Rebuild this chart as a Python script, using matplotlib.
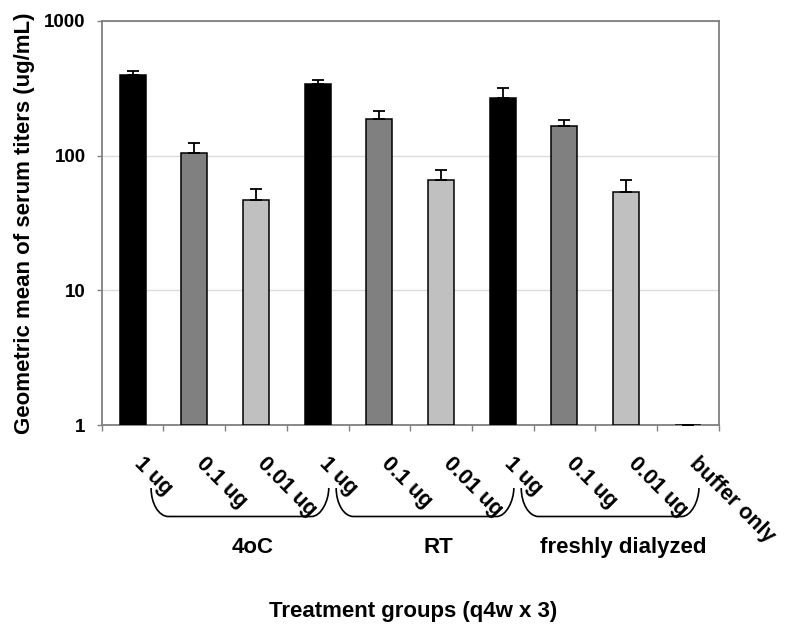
#!/usr/bin/env python3
"""
Serum titer bar chart (log scale) for the storage/dose treatment groups.
"""

import numpy as np
import matplotlib
matplotlib.use('Agg')
import matplotlib.pyplot as plt
from matplotlib.path import Path
from matplotlib.patches import PathPatch
from matplotlib.ticker import NullLocator
import matplotlib.transforms as mtransforms


# Bar labels, one per treatment group
dose_labels = ['1 ug', '0.1 ug', '0.01 ug',
               '1 ug', '0.1 ug', '0.01 ug',
               '1 ug', '0.1 ug', '0.01 ug',
               'buffer only']

# Geometric mean titers (ug/mL) and upper error
titers = [397, 104, 46.8, 340, 187, 66.2, 268, 166, 53.3, 1.0]
titer_err = [30, 21, 9.7, 24, 27, 12.4, 51, 18, 12.6, 0]

# Fill colour for each dose level
dose_colors = ['#000000', '#808080', '#c0c0c0',
               '#000000', '#808080', '#c0c0c0',
               '#000000', '#808080', '#c0c0c0',
               '#808080']

# Storage conditions: (name, first bar index, last bar index)
groups = [('4oC', 0, 2), ('RT', 3, 5), ('freshly dialyzed', 6, 8)]

y_ticks = [1, 10, 100, 1000]


def draw_bracket(ax, x0, x1, y_top, y_bot, rx):
    """Rounded bracket under a group of bars (x in data, y in axes units)."""
    k = 0.5523
    ry = y_top - y_bot
    verts = [
        (x0, y_top),
        (x0, y_top - k * ry), (x0 + rx - k * rx, y_bot), (x0 + rx, y_bot),
        (x1 - rx, y_bot),
        (x1 - rx + k * rx, y_bot), (x1, y_bot + k * ry), (x1, y_top),
    ]
    codes = [Path.MOVETO,
             Path.CURVE4, Path.CURVE4, Path.CURVE4,
             Path.LINETO,
             Path.CURVE4, Path.CURVE4, Path.CURVE4]
    trans = mtransforms.blended_transform_factory(ax.transData, ax.transAxes)
    patch = PathPatch(Path(verts, codes), facecolor='none', edgecolor='black',
                      lw=1.2, transform=trans, clip_on=False)
    ax.add_patch(patch)


def main():
    plt.rcParams['font.family'] = ['Liberation Sans', 'DejaVu Sans']
    plt.rcParams['font.weight'] = 'bold'

    fig = plt.figure(figsize=(7.85, 6.26), dpi=100)
    ax = fig.add_axes([0.1296, 0.3206, 0.7859, 0.6463])

    x = np.arange(len(titers))
    vals = np.array(titers)
    ax.set_yscale('log')
    ax.bar(x, vals - 1, bottom=1, width=0.42, color=dose_colors,
           edgecolor='black', linewidth=1.1, zorder=3)
    ax.errorbar(x, vals, yerr=[np.zeros(len(vals)), titer_err], fmt='none',
                ecolor='black', elinewidth=1.3, capsize=4, capthick=1.3,
                zorder=4)

    ax.set_xlim(-0.5, len(titers) - 0.5)
    ax.set_ylim(1, 1000)

    # y axis
    ax.set_yticks(y_ticks)
    ax.set_yticklabels([str(t) for t in y_ticks])
    ax.yaxis.set_minor_locator(NullLocator())
    ax.tick_params(axis='y', length=3.6, width=1, color='#808080', pad=8,
                   labelsize=13.5)
    ax.grid(axis='y', color='#dcdcdc', lw=1.0, zorder=0)

    # x axis: ticks on category boundaries, labels drawn by hand
    ax.set_xticks(np.arange(-0.5, len(titers), 1.0))
    ax.set_xticklabels([])
    ax.xaxis.set_minor_locator(NullLocator())
    ax.tick_params(axis='x', length=4, width=1, color='#808080')

    for side in ['left', 'right', 'top', 'bottom']:
        ax.spines[side].set_color('#808080')
        ax.spines[side].set_linewidth(1.3)

    trans = mtransforms.blended_transform_factory(ax.transData, ax.transAxes)
    for i, lab in enumerate(dose_labels):
        ax.text(i + 0.2, -0.07, lab, transform=trans, rotation=-45,
                rotation_mode='anchor', ha='left', va='top', fontsize=15.5,
                fontweight='bold', clip_on=False)

    for name, first, last in groups:
        draw_bracket(ax, first + 0.3, last + 1.18, -0.155, -0.2254, 0.28)
        ax.text((first + last) / 2 + 0.95, -0.3025, name, transform=trans,
                ha='center', va='center', fontsize=16, fontweight='bold')

    ax.text(0.505, -0.4607, 'Treatment groups (q4w x 3)', transform=ax.transAxes,
            ha='center', va='center', fontsize=16, fontweight='bold')

    ax.set_ylabel('Geometric mean of serum titers (ug/mL)', fontsize=16,
                  fontweight='bold')
    ax.yaxis.label.set(va='center', ha='center', rotation_mode='default')
    ax.yaxis.set_label_coords(-0.126, 0.5)

    fig.savefig('out.png', dpi=100)


if __name__ == '__main__':
    main()
